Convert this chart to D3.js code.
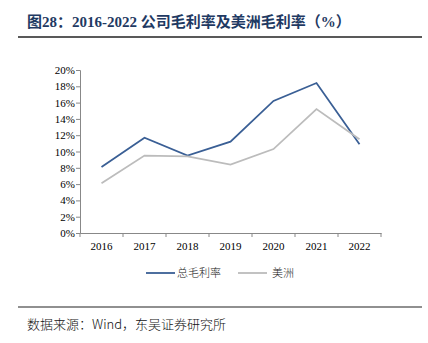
<!DOCTYPE html>
<html><head><meta charset="utf-8">
<script src="https://cdn.jsdelivr.net/npm/d3@7/dist/d3.min.js"></script>
<style>body{margin:0;background:#fff}</style>
</head><body>
<svg id="c" width="428" height="343"></svg>
<script>
const years = ["2016","2017","2018","2019","2020","2021","2022"];
const totalMargin = [8.1, 11.7, 9.5, 11.2, 16.2, 18.4, 10.9];
const americasMargin = [6.1, 9.5, 9.4, 8.4, 10.3, 15.2, 11.5];
const seriesNames = ["总毛利率", "美洲"];
const yTicks = [0,2,4,6,8,10,12,14,16,18,20];

const svg = d3.select("#c");
const serif = "'Liberation Serif','Times New Roman',serif";
const cjk = "'Noto Sans CJK SC','Liberation Serif',serif";

// title
svg.append("text").attr("x", 27).attr("y", 27)
  .attr("font-family", "'Liberation Serif','Noto Sans CJK SC',serif")
  .attr("font-weight", "bold").attr("font-size", 15).attr("fill", "#1f3a63")
  .attr("xml:space", "preserve").style("white-space", "pre")
  .text("图28：2016-2022 公司毛利率及美洲毛利率（%）");
svg.append("line").attr("x1", 18).attr("x2", 422).attr("y1", 37).attr("y2", 37)
  .attr("stroke", "#222").attr("stroke-width", 1.6);

const x = d3.scaleBand().domain(years).range([80, 381]);
const y = d3.scaleLinear().domain([0, 20]).range([233, 70]);

const yAxis = svg.append("g").attr("transform", "translate(80,0)")
  .call(d3.axisLeft(y).tickValues(yTicks).tickSize(4).tickFormat(d => d + "%"));
const xAxis = svg.append("g").attr("transform", "translate(0,233)")
  .call(d3.axisBottom(x).tickSize(0).tickPadding(9));
const bounds = years.map(d => x(d)).concat([x.range()[1]]);
svg.append("g").selectAll("line").data(bounds).join("line")
  .attr("x1", d => d).attr("x2", d => d).attr("y1", 233).attr("y2", 237)
  .attr("stroke", "#888");
[yAxis, xAxis].forEach(g => {
  g.select(".domain").attr("stroke", "#888");
  g.selectAll(".tick line").attr("stroke", "#888");
  g.selectAll("text").attr("font-family", serif).attr("font-size", 11).attr("fill", "#000");
});
yAxis.selectAll("text").attr("x", -5);

const line = d3.line().x((d, i) => x(years[i]) + x.bandwidth() / 2).y(d => y(d));
const colors = ["#3a5f95", "#bcbcbc"];
[totalMargin, americasMargin].forEach((s, k) => {
  svg.append("path").datum(s).attr("d", line).attr("fill", "none")
    .attr("stroke", colors[k]).attr("stroke-width", 1.8);
});

// legend
const leg = [{x: 146, tx: 177}, {x: 238, tx: 272}];
seriesNames.forEach((n, k) => {
  svg.append("line").attr("x1", leg[k].x).attr("x2", leg[k].x + 29).attr("y1", 273).attr("y2", 273)
    .attr("stroke", colors[k]).attr("stroke-width", 1.8);
  svg.append("text").attr("x", leg[k].tx).attr("y", 277).attr("font-family", cjk)
    .attr("font-size", 11).attr("font-weight", 300).attr("fill", "#222").text(n);
});

// footer
svg.append("line").attr("x1", 18).attr("x2", 422).attr("y1", 307).attr("y2", 307)
  .attr("stroke", "#222").attr("stroke-width", 1.2);
svg.append("text").attr("x", 27).attr("y", 329).attr("font-family", cjk)
  .attr("font-size", 13).attr("font-weight", 300).attr("fill", "#111").text("数据来源：Wind，东吴证券研究所");
</script>
</body></html>
